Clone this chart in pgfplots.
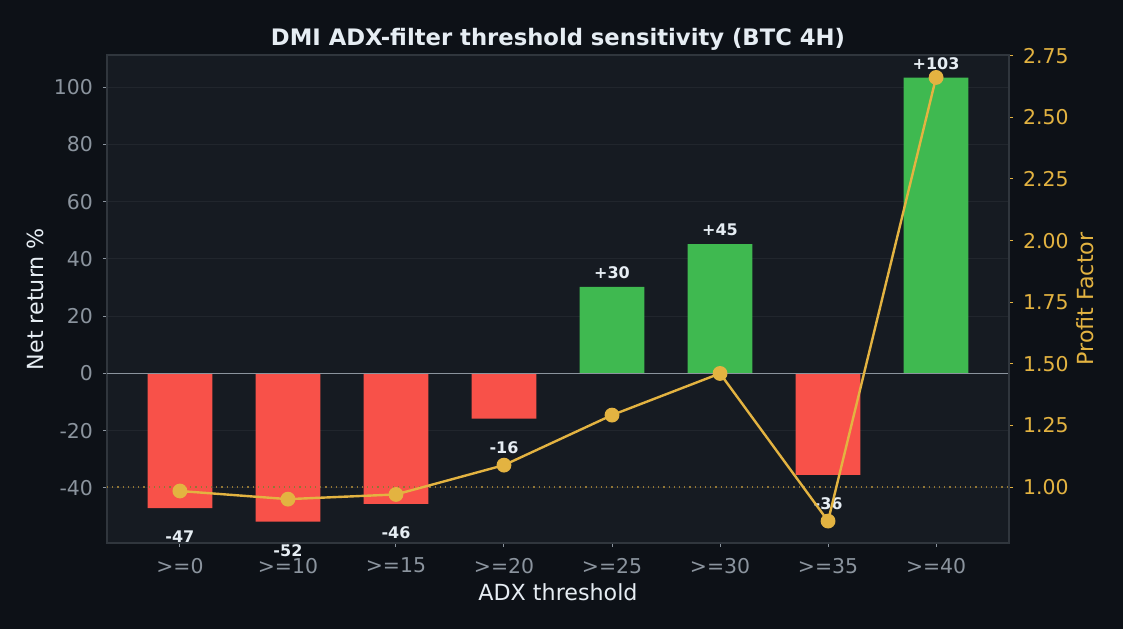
\documentclass[border=0pt]{standalone}
\usepackage{fontspec}
\setmainfont{DejaVu Sans}
\usepackage{pgfplots}
\usepackage{pgfplotstable}
\pgfplotsset{compat=1.18}

\definecolor{figbg}{HTML}{0D1117}
\definecolor{axbg}{HTML}{161B22}
\definecolor{spine}{HTML}{30363D}
\definecolor{gridc}{HTML}{21262D}
\definecolor{ticktxt}{HTML}{8B949E}
\definecolor{txt}{HTML}{E6EDF3}
\definecolor{negred}{HTML}{F85149}
\definecolor{posgreen}{HTML}{3FB950}
\definecolor{gold}{HTML}{E3B341}

% net return % (bars), split by sign
\pgfplotstableread{
x ret
0 -47.1
1 -51.8
2 -45.6
3 -15.8
6 -35.5
}\negtable
\pgfplotstableread{
x ret
4 30.2
5 45.2
7 103.4
}\postable
% profit factor (line)
\pgfplotstableread{
x pf
0 0.984
1 0.951
2 0.970
3 1.089
4 1.292
5 1.461
6 0.862
7 2.662
}\pftable

\newcommand{\labfont}{\fontsize{11.1}{13}\selectfont}

\begin{document}
\begin{tikzpicture}
\fill[figbg] (-53.5pt,-43pt) rectangle (508pt,271.5pt);
\pgfplotsset{
  common/.style={
    scale only axis, width=451pt, height=244pt,
    at={(0,0)}, anchor=south west,
    xmin=-0.675, xmax=7.675,
    /pgf/number format/assume math mode=true,
    tick align=outside,
    major tick length=2pt,
    tick label style={font=\fontsize{10.2}{12}\selectfont},
  },
  barlabel/.style={
    nodes near coords={\pgfmathprintnumber[showpos,fixed,precision=0]{\pgfplotspointmeta}},
    every node near coord/.style={anchor=center, text=txt,
      font=\bfseries\fontsize{8}{10}\selectfont, yshift=#1},
  },
}
\begin{axis}[common,
  axis background/.style={fill=axbg},
  axis line style={spine, line width=0.6pt},
  ymin=-59.3, ymax=111.3,
  ytick={-40,-20,...,100},
  xtick={0,...,7},
  xtick pos=bottom, ytick pos=left,
  xticklabels={{>=0},{>=10},{>=15},{>=20},{>=25},{>=30},{>=35},{>=40}},
  ymajorgrids, grid style={gridc, line width=0.5pt},
  tick style={ticktxt, line width=0.5pt},
  ticklabel style={text=ticktxt},
  xticklabel style={yshift=-2pt},
  yticklabel style={xshift=-1.5pt},
  xlabel={ADX threshold}, ylabel={Net return \%},
  every axis x label/.style={at={(axis description cs:0.5,-0.1004)}, anchor=center,
    text=txt, font=\labfont},
  every axis y label/.style={at={(axis description cs:-0.0798,0.5)}, rotate=90,
    anchor=center, text=txt, font=\labfont},
  title={DMI ADX-filter threshold sensitivity (BTC 4H)},
  title style={font=\bfseries\fontsize{11.35}{13}\selectfont, text=txt,
    at={(axis description cs:0.5,1)}, anchor=center, yshift=2pt},
  ybar, bar width=0.6, bar shift=0pt,
]
\addplot[fill=negred, draw=none, barlabel=-14.5pt] table[x=x, y=ret] {\negtable};
\addplot[fill=posgreen, draw=none, barlabel=7pt] table[x=x, y=ret] {\postable};
\addplot[ticktxt, line width=0.8pt, sharp plot] coordinates {(-0.675,0) (7.675,0)};
\end{axis}

\begin{axis}[common,
  axis x line=none, axis y line*=right,
  axis line style={spine, line width=0.6pt},
  ymin=0.773, ymax=2.753,
  ytick={1,1.25,...,2.75},
  yticklabel style={/pgf/number format/fixed, /pgf/number format/fixed zerofill,
    /pgf/number format/precision=2, xshift=1.5pt},
  tick style={gold, line width=0.5pt},
  ticklabel style={text=gold},
  ylabel={Profit Factor},
  every axis y label/.style={at={(axis description cs:1.0843,0.5)}, rotate=90,
    anchor=center, text=gold, font=\labfont},
]
\addplot[gold!60!axbg, line width=0.6pt, dotted] coordinates {(-0.675,1) (7.675,1)};
\addplot[gold, line width=1.2pt, mark=*, mark size=3.1pt] table[x=x, y=pf] {\pftable};
\end{axis}
\pgfresetboundingbox
\path (-53.5pt,-43pt) rectangle (508pt,271.5pt);
\end{tikzpicture}
\end{document}
